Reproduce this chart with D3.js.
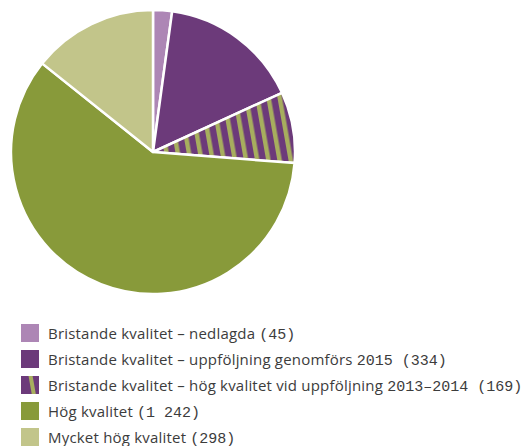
<!DOCTYPE html>
<html>
<head>
<meta charset="utf-8">
<script src="https://cdn.jsdelivr.net/npm/d3@7"></script>
<style>
  html, body { margin: 0; padding: 0; background: #fff; }
  svg { display: block; }
  text { white-space: pre; }
</style>
</head>
<body>
<svg id="chart" width="528" height="446"></svg>
<script>
// Categories, counts and legend texts
const categories = [
  "Bristande kvalitet – nedlagda",
  "Bristande kvalitet – uppföljning genomförs 2015",
  "Bristande kvalitet – hög kvalitet vid uppföljning 2013–2014",
  "Hög kvalitet",
  "Mycket hög kvalitet"
];
const counts = [45, 334, 169, 1242, 298];
const countLabels = ["45", "334", "169", "1 242", "298"];
const fills = ["#ad86b5", "#6c3a7a", "url(#stripes)", "#889a3a", "#c2c58a"];

const svg = d3.select("#chart");

// striped fill: purple base with slanted green stripes
const defs = svg.append("defs");
const pat = defs.append("pattern")
  .attr("id", "stripes")
  .attr("patternUnits", "userSpaceOnUse")
  .attr("width", 11)
  .attr("height", 40)
  .attr("patternTransform", "rotate(-10)");
pat.append("rect").attr("width", 11).attr("height", 40).attr("fill", "#6c3a7a");
pat.append("rect").attr("x", 0).attr("width", 4.5).attr("height", 40).attr("fill", "#a7ae5e");

const cx = 153, cy = 152, R = 142;

const pie = d3.pie().sort(null).value(d => d.v);
const arc = d3.arc().innerRadius(0).outerRadius(R);
const data = counts.map((v, i) => ({ v, i }));

svg.append("g")
  .attr("transform", `translate(${cx},${cy})`)
  .selectAll("path")
  .data(pie(data))
  .join("path")
  .attr("d", arc)
  .attr("fill", d => fills[d.data.i])
  .attr("stroke", "#fff")
  .attr("stroke-width", 2.5)
  .attr("stroke-linejoin", "round");

// legend
const y = d3.scalePoint().domain(d3.range(categories.length)).range([333, 437]);
const legend = svg.append("g");
const rows = legend.selectAll("g")
  .data(categories)
  .join("g")
  .attr("transform", (d, i) => `translate(21,${y(i)})`);

const stripeLegend = defs.append("pattern")
  .attr("id", "stripesLegend")
  .attr("patternUnits", "userSpaceOnUse")
  .attr("width", 18)
  .attr("height", 40)
  .attr("x", 21)
  .attr("patternTransform", "rotate(-10)");
stripeLegend.append("rect").attr("width", 18).attr("height", 40).attr("fill", "#6c3a7a");
stripeLegend.append("rect").attr("x", 6).attr("width", 4).attr("height", 40).attr("fill", "#a7ae5e");

rows.append("rect")
  .attr("x", 0).attr("y", -9)
  .attr("width", 18).attr("height", 18)
  .attr("fill", (d, i) => i === 2 ? "url(#stripesLegend)" : fills[i]);

// words in a sans face, years and counts in a monospaced face
const label = rows.append("text")
  .attr("x", 27)
  .attr("y", 5.5)
  .attr("font-size", 15)
  .attr("fill", "#3c3c3c");

label.each(function (d, i) {
  const full = `${d} (${countLabels[i]})`;
  const cut = full.search(/[0-9(]/);
  const t = d3.select(this);
  t.append("tspan")
    .attr("font-family", "'Open Sans', sans-serif")
    .attr("letter-spacing", 0.2)
    .text(full.slice(0, cut));
  t.append("tspan")
    .attr("font-family", "'Liberation Mono', monospace")
    .text(full.slice(cut));
});
</script>
</body>
</html>
